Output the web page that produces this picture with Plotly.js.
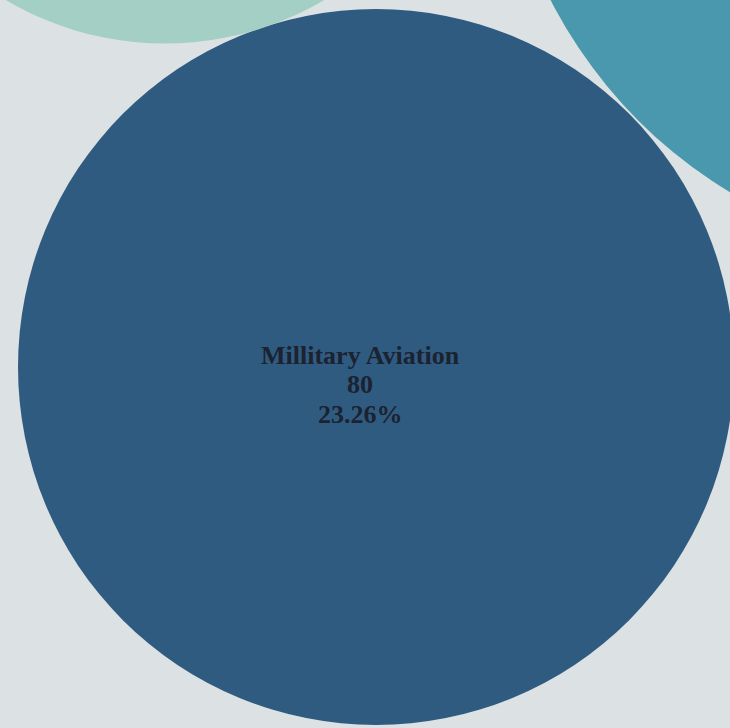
<!DOCTYPE html>
<html>
<head>
<meta charset="utf-8">
<script src="https://cdn.plot.ly/plotly-3.0.1.min.js"></script>
<style>html,body{margin:0;padding:0;background:#dce2e3;}#chart{width:730px;height:728px;}</style>
</head>
<body>
<div id="chart"></div>
<script>
// Data
const labels = ["Commercial Aviation", "Millitary Aviation", "General Aviation", "Space"];
const values = [144, 80, 61, 59];
const colors = ["#4a98ad", "#305b81", "#a4cfc5", "#7fb8b8"];

// Packing layout (the view is zoomed in on the middle circle)
const centerX = [978, 376, 165, -420];
const centerY = [-219, 367, -269, 900];
const radiusScale = 358 / Math.sqrt(80);
const viewX = [0, 730], viewY = [728, 0];

const total = values.reduce((a, b) => a + b, 0);
const shapes = values.map((v, i) => {
  const r = radiusScale * Math.sqrt(v);
  return {
    type: "circle", xref: "x", yref: "y", layer: "below",
    x0: centerX[i] - r, x1: centerX[i] + r,
    y0: centerY[i] - r, y1: centerY[i] + r,
    fillcolor: colors[i], line: {width: 0}
  };
});

// Labels: three lines per circle whose centre is in view
const annotations = [];
values.forEach((v, i) => {
  const inView = centerX[i] >= viewX[0] && centerX[i] <= viewX[1] &&
                 centerY[i] >= viewY[1] && centerY[i] <= viewY[0];
  if (!inView) return;
  const lines = [labels[i], String(v), (v / total * 100).toFixed(2) + "%"];
  lines.forEach((t, k) => annotations.push({
    x: centerX[i], y: centerY[i], xref: "x", yref: "y",
    text: "<b>" + t + "</b>", showarrow: false,
    xanchor: "center", yanchor: "middle",
    xshift: -16, yshift: 12 - 29.5 * k,
    font: {family: "Liberation Serif, Times New Roman, serif", size: 26, color: "#1b2230"}
  }));
});

Plotly.newPlot("chart", [{
  type: "scatter", mode: "markers",
  x: centerX, y: centerY, marker: {size: 1, opacity: 0},
  hoverinfo: "none", showlegend: false
}], {
  width: 730, height: 728,
  margin: {l: 0, r: 0, t: 0, b: 0},
  paper_bgcolor: "#dce2e3", plot_bgcolor: "#dce2e3",
  xaxis: {range: viewX, visible: false, fixedrange: true},
  yaxis: {range: viewY, visible: false, fixedrange: true},
  shapes: shapes,
  annotations: annotations
}, {displayModeBar: false, staticPlot: true});
</script>
</body>
</html>
